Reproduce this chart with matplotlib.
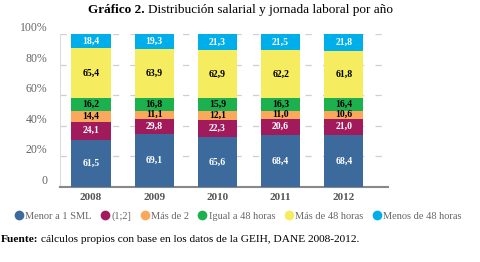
import numpy as np
import matplotlib
matplotlib.use("Agg")
import matplotlib.pyplot as plt
from matplotlib.lines import Line2D

plt.rcParams['font.family'] = ['Liberation Serif', 'DejaVu Serif']

years = ["2008", "2009", "2010", "2011", "2012"]
series_names = ["Menor a 1 SML", "(1;2]", "Más de 2", "Igual a 48 horas",
                "Más de 48 horas", "Menos de 48 horas"]
# salary groups (sum 100 per year) and working hours groups (sum 100 per year)
menor_1 = [61.5, 69.1, 65.6, 68.4, 68.4]
entre_1_2 = [24.1, 19.8, 22.3, 20.6, 21.0]
mas_de_2 = [14.4, 11.1, 12.1, 11.0, 10.6]
igual_48 = [16.2, 16.8, 15.9, 16.3, 16.4]
mas_48 = [65.4, 63.9, 62.9, 62.2, 61.8]
menos_48 = [18.4, 19.3, 21.3, 21.5, 21.8]
# the source prints 29,8 on the 2009 (1;2] segment although it is drawn as 19,8
label_overrides = {(1, 1): "29,8"}

colors = ["#3c6a9c", "#a01a5c", "#f9a85c", "#1db04f", "#f6ec5f", "#00aeea"]
text_colors = ["white", "white", "black", "black", "black", "white"]

data = np.array([menor_1, entre_1_2, mas_de_2, igual_48, mas_48, menos_48])
# both groups stacked in one bar -> each value counts for half
shares = data / 2.0

fig = plt.figure(figsize=(4.81, 2.62), dpi=100)
ax = fig.add_axes([60 / 481, 1 - 187 / 262, (388 - 60) / 481, (187 - 34) / 262])

x = np.arange(len(years))
bottom = np.zeros(len(years))
for i in range(len(series_names)):
    ax.bar(x, shares[i], bottom=bottom, width=0.62, color=colors[i],
           edgecolor="none", zorder=3)
    for j in range(len(years)):
        txt = label_overrides.get((i, j), ("%.1f" % data[i][j]).replace(".", ","))
        ax.text(x[j], bottom[j] + shares[i][j] / 2, txt,
                ha="center", va="center", fontsize=7, fontweight="bold",
                color=text_colors[i], zorder=4)
    bottom += shares[i]

ax.set_xlim(-0.49, 4.7)
ax.set_ylim(0, 100)
ax.set_yticks([0, 20, 40, 60, 80, 100])
ax.set_yticklabels(["0", "20%", "40%", "60%", "80%", "100%"])
for lab in ax.get_yticklabels():
    lab.set_va("bottom")
ax.set_xticks(x)
ax.set_xticklabels(years, fontweight="bold")
ax.tick_params(axis="y", length=0, pad=9, labelsize=8.5, labelcolor="#666666")
ax.tick_params(axis="x", length=0, pad=4, labelsize=8, labelcolor="#555555")
ax.yaxis.grid(True, color="#cfcfcf", linestyle=(0, (5, 9)), linewidth=0.9, zorder=0)

for s in ["top", "right"]:
    ax.spines[s].set_visible(False)
ax.spines["left"].set_color("#dddddd")
ax.spines["left"].set_linewidth(0.8)
ax.spines["bottom"].set_color("#888888")
ax.spines["bottom"].set_linewidth(1.5)

handles = [Line2D([], [], marker="o", linestyle="none", markersize=7,
                  markerfacecolor=c, markeredgecolor="none") for c in colors]
fig.legend(handles, series_names, loc="center left", bbox_to_anchor=(0.028, 1 - 216 / 262),
           ncol=6, frameon=False, fontsize=7.5, handletextpad=0.15,
           columnspacing=0.75, handlelength=1.0, labelcolor="#666666",
           borderaxespad=0, borderpad=0)

t1 = fig.text(88 / 481, 1 - 10 / 262, "Gráfico 2.", fontsize=9.5, fontweight="bold",
              ha="left", va="center")
fig.canvas.draw()
bb = t1.get_window_extent()
fig.text((bb.x1 + 3) / fig.bbox.width, 1 - 10 / 262,
         "Distribución salarial y jornada laboral por año", fontsize=9.5,
         ha="left", va="center")

f1 = fig.text(0.002, 1 - 240 / 262, "Fuente:", fontsize=8.2, fontweight="bold",
              ha="left", va="center")
fig.canvas.draw()
bb = f1.get_window_extent()
fig.text((bb.x1 + 3) / fig.bbox.width, 1 - 240 / 262,
         "cálculos propios con base en los datos de la GEIH, DANE 2008-2012.",
         fontsize=8.2, ha="left", va="center")

fig.savefig("out.png", dpi=100)
